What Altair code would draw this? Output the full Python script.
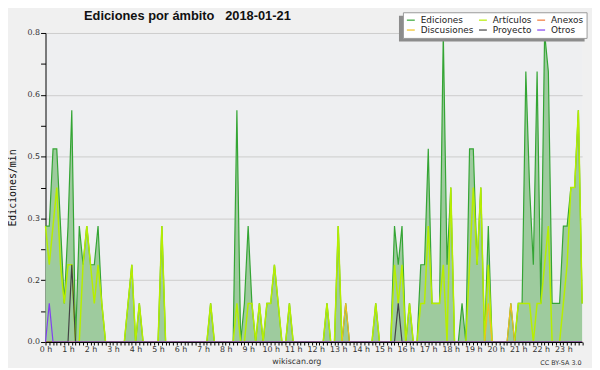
import altair as alt
import pandas as pd

# ---- data: edits per minute, 10-minute bins (one row = one hour, 6 bins) ----
series_names = ["Ediciones", "Artículos", "Anexos", "Discusiones", "Proyecto", "Otros"]
series_colors = ["#34a534", "#b6ee00", "#f07838", "#f0c020", "#444444", "#8040f0"]

ediciones = [
    0.3, 0.3, 0.5, 0.5, 0.3, 0.1,   # 0 h
    0.3, 0.6, 0.0, 0.3, 0.2, 0.3,   # 1 h
    0.2, 0.2, 0.3, 0.1, 0.0, 0.0,   # 2 h
    0.0, 0.0, 0.0, 0.0, 0.1, 0.2,   # 3 h
    0.0, 0.1, 0.0, 0.0, 0.0, 0.0,   # 4 h
    0.0, 0.3, 0.0, 0.0, 0.0, 0.0,   # 5 h
    0.0, 0.0, 0.0, 0.0, 0.0, 0.0,   # 6 h
    0.0, 0.0, 0.1, 0.0, 0.0, 0.0,   # 7 h
    0.0, 0.0, 0.0, 0.6, 0.0, 0.1,   # 8 h
    0.3, 0.1, 0.0, 0.1, 0.0, 0.1,   # 9 h
    0.1, 0.2, 0.1, 0.0, 0.0, 0.1,   # 10 h
    0.0, 0.0, 0.0, 0.0, 0.0, 0.0,   # 11 h
    0.0, 0.0, 0.0, 0.1, 0.0, 0.0,   # 12 h
    0.3, 0.0, 0.1, 0.0, 0.0, 0.0,   # 13 h
    0.0, 0.0, 0.0, 0.0, 0.1, 0.0,   # 14 h
    0.0, 0.0, 0.0, 0.3, 0.2, 0.3,   # 15 h
    0.0, 0.1, 0.0, 0.0, 0.2, 0.2,   # 16 h
    0.5, 0.1, 0.1, 0.1, 0.8, 0.2,   # 17 h
    0.4, 0.0, 0.0, 0.1, 0.0, 0.5,   # 18 h
    0.5, 0.2, 0.4, 0.0, 0.3, 0.0,   # 19 h
    0.0, 0.0, 0.0, 0.0, 0.1, 0.0,   # 20 h
    0.1, 0.1, 0.7, 0.4, 0.2, 0.7,   # 21 h
    0.1, 0.8, 0.7, 0.1, 0.1, 0.1,   # 22 h
    0.3, 0.3, 0.4, 0.4, 0.6, 0.1,   # 23 h
]

articulos = [
    0.3, 0.2, 0.3, 0.4, 0.2, 0.1,   # 0 h
    0.2, 0.2, 0.0, 0.0, 0.2, 0.3,   # 1 h
    0.2, 0.1, 0.2, 0.1, 0.0, 0.0,   # 2 h
    0.0, 0.0, 0.0, 0.0, 0.1, 0.2,   # 3 h
    0.0, 0.1, 0.0, 0.0, 0.0, 0.0,   # 4 h
    0.0, 0.3, 0.0, 0.0, 0.0, 0.0,   # 5 h
    0.0, 0.0, 0.0, 0.0, 0.0, 0.0,   # 6 h
    0.0, 0.0, 0.1, 0.0, 0.0, 0.0,   # 7 h
    0.0, 0.0, 0.0, 0.1, 0.0, 0.0,   # 8 h
    0.1, 0.1, 0.0, 0.1, 0.0, 0.1,   # 9 h
    0.1, 0.2, 0.1, 0.0, 0.0, 0.1,   # 10 h
    0.0, 0.0, 0.0, 0.0, 0.0, 0.0,   # 11 h
    0.0, 0.0, 0.0, 0.1, 0.0, 0.0,   # 12 h
    0.3, 0.0, 0.0, 0.0, 0.0, 0.0,   # 13 h
    0.0, 0.0, 0.0, 0.0, 0.1, 0.0,   # 14 h
    0.0, 0.0, 0.0, 0.2, 0.1, 0.2,   # 15 h
    0.0, 0.1, 0.0, 0.0, 0.1, 0.1,   # 16 h
    0.3, 0.1, 0.1, 0.1, 0.2, 0.0,   # 17 h
    0.4, 0.0, 0.0, 0.0, 0.0, 0.2,   # 18 h
    0.4, 0.2, 0.4, 0.0, 0.2, 0.0,   # 19 h
    0.0, 0.0, 0.0, 0.0, 0.0, 0.0,   # 20 h
    0.1, 0.1, 0.1, 0.1, 0.0, 0.1,   # 21 h
    0.1, 0.2, 0.3, 0.0, 0.0, 0.0,   # 22 h
    0.1, 0.2, 0.4, 0.4, 0.6, 0.1,   # 23 h
]

zero_hour = [0.0] * 6
anexos = zero_hour * 24

discusiones = (
    zero_hour * 13
    + [0.0, 0.0, 0.1, 0.0, 0.0, 0.0]   # 13 h
    + zero_hour * 5
    + [0.0, 0.0, 0.0, 0.0, 0.1, 0.0]   # 19 h
    + [0.0, 0.0, 0.0, 0.0, 0.1, 0.0]   # 20 h
    + zero_hour * 3
)

proyecto = (
    zero_hour
    + [0.0, 0.2, 0.0, 0.0, 0.0, 0.0]   # 1 h
    + zero_hour * 13
    + [0.0, 0.0, 0.0, 0.0, 0.1, 0.0]   # 15 h
    + zero_hour * 8
)

otros = (
    [0.0, 0.1, 0.0, 0.0, 0.0, 0.0]     # 0 h
    + zero_hour * 23
)

bins_per_hour = 6

values_by_serie = {
    "Ediciones": ediciones,
    "Artículos": articulos,
    "Anexos": anexos,
    "Discusiones": discusiones,
    "Proyecto": proyecto,
    "Otros": otros,
}

rows = []
for name, vals in values_by_serie.items():
    for i, v in enumerate(vals):
        rows.append({"hora": i / bins_per_hour, "valor": v, "serie": name})
df = pd.DataFrame(rows)

n_bins = len(ediciones)
x_max = (n_bins - 1) / bins_per_hour
x_tick_values = [i / bins_per_hour for i in range(n_bins)]
y_tick_values = [round(k * 0.08, 2) for k in range(11)]

FONT = "DejaVu Sans"

x_enc = alt.X(
    "hora:Q",
    scale=alt.Scale(domain=[0, x_max], nice=False, zero=False),
    axis=alt.Axis(
        values=x_tick_values,
        labelExpr="abs(datum.value - round(datum.value)) < 0.01 ? round(datum.value) + ' h' : ''",
        labelOverlap=False,
        labelFlush=False,
        labelBound=False,
        labelFont=FONT,
        labelFontSize=8,
        labelColor="#333333",
        labelPadding=1,
        tickSize=3,
        tickColor="#000000",
        domainColor="#000000",
        grid=False,
        zindex=1,
        title="wikiscan.org",
        titleFont=FONT,
        titleFontSize=8,
        titleFontWeight="normal",
        titleColor="#333333",
        titleX=254,
        titleY=20,
        titleAlign="center",
        titleBaseline="middle",
    ),
)

y_enc = alt.Y(
    "valor:Q",
    scale=alt.Scale(domain=[0, 0.8], nice=False),
    axis=alt.Axis(
        values=y_tick_values,
        labelExpr="round(datum.value*100) % 16 == 0 ? format(datum.value, '.1f') : ''",
        labelFont=FONT,
        labelFontSize=8,
        labelColor="#333333",
        labelPadding=1,
        tickSize=5,
        tickColor="#000000",
        domainColor="#000000",
        grid=True,
        gridColor="#cccccc",
        gridOpacity={"condition": {"test": "round(datum.value*100) % 16 == 0", "value": 1}, "value": 0},
        zindex=0,
        title="Ediciones/min",
        titleFont="DejaVu Sans Mono",
        titleFontSize=10,
        titleFontWeight="normal",
        titleColor="#111111",
        titleAngle=270,
        titleX=-33,
        titleY=156.5,
        titleAlign="center",
        titleBaseline="middle",
    ),
)

legend = alt.Legend(
    orient="none",
    legendX=362,
    legendY=-21,
    direction="horizontal",
    columns=3,
    symbolType="stroke",
    symbolSize=64,
    symbolStrokeWidth=1.2,
    symbolOpacity=1,
    labelFont=FONT,
    labelFontSize=9,
    labelColor="#222222",
    labelOffset=5,
    fillColor="#ffffff",
    strokeColor="#999999",
    padding=3,
    columnPadding=2,
    rowPadding=-1,
    title=None,
)

color_enc = alt.Color(
    "serie:N",
    scale=alt.Scale(domain=series_names, range=series_colors),
    legend=legend,
)

base = alt.Chart(df)

area = base.transform_filter(alt.datum.serie == "Ediciones").mark_area(
    color="#9ecb9e", opacity=1, interpolate="linear"
).encode(x=x_enc, y=y_enc)

line_layers = []
widths = {"Ediciones": 1.2, "Artículos": 1.5}
for name in series_names:
    line_layers.append(
        base.transform_filter(alt.datum.serie == name)
        .mark_line(strokeWidth=widths.get(name, 1.2), interpolate="linear")
        .encode(x=x_enc, y=y_enc, color=color_enc)
    )

shadow = alt.Chart(pd.DataFrame({"k": [0]})).mark_rect(color="#8c8c8c").encode(
    x=alt.value(358), x2=alt.value(546), y=alt.value(-17.5), y2=alt.value(8.5)
)

title_text = alt.Chart(pd.DataFrame({"t": ["Ediciones por ámbito\u00a0\u00a0 2018-01-21"]})).mark_text(
    align="left", baseline="alphabetic", font="Liberation Sans", fontSize=13,
    fontWeight="bold", color="#111111"
).encode(text="t:N", x=alt.value(39), y=alt.value(-12.7))

credit = alt.Chart(pd.DataFrame({"t": ["CC BY-SA 3.0"]})).mark_text(
    align="right", baseline="middle", font=FONT, fontSize=6.5, color="#333333"
).encode(text="t:N", x=alt.value(543), y=alt.value(334))

chart = alt.layer(area, *line_layers, shadow, title_text, credit).properties(
    width=543.5,
    height=313,
    autosize=alt.AutoSizeParams(type="none"),
    padding={"left": 38, "top": 23, "right": 10, "bottom": 24},
).configure(background="#f0f0f0").configure_view(fill="#eeeff1", stroke=None)

chart.save("out.html", embed_options={"renderer": "svg", "actions": False})
